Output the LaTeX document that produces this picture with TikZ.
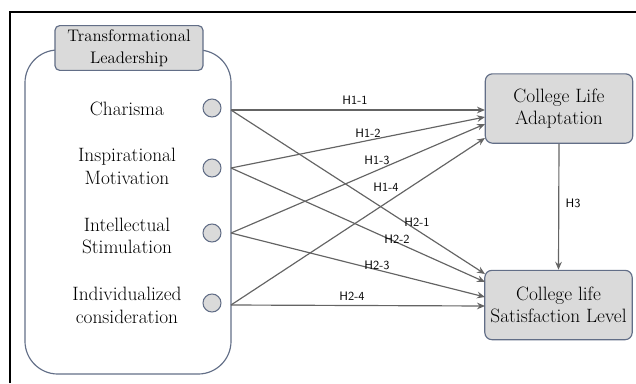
\documentclass[tikz,border=0pt]{standalone}
\usepackage{tikz}
\usetikzlibrary{positioning,arrows.meta}
\definecolor{boxgray}{RGB}{218,218,218}
\definecolor{rimblue}{RGB}{98,110,135}
\definecolor{linegray}{RGB}{100,100,100}
\tikzset{
  group/.style={draw=rimblue,line width=1pt,rounded corners=28pt,minimum width=6.18cm,minimum height=9.72cm},
  title/.style={draw=rimblue,fill=boxgray,line width=1pt,rounded corners=4pt,minimum width=4.44cm,
                minimum height=1.32cm,align=center,font=\fontsize{14.3}{18.7}\selectfont},
  dim/.style={align=center,font=\fontsize{16.5}{19.5}\selectfont},
  dot/.style={circle,draw=rimblue,fill=boxgray,line width=0.9pt,minimum size=5.4mm,inner sep=0pt},
  outcome/.style={draw=rimblue,fill=boxgray,line width=1pt,rounded corners=6pt,minimum width=4.42cm,
                  minimum height=2.08cm,align=center,font=\fontsize{16.5}{18.7}\selectfont},
  hlabel/.style={font=\sffamily\fontsize{10.5}{12}\selectfont},
  hyp/.style={-{Stealth[length=2.4mm,width=2mm,inset=0.8mm]},draw=linegray,line width=1pt},
}

\begin{document}
\begin{tikzpicture}[x=0.03cm,y=-0.03cm]
  \useasboundingbox (0,0) rectangle (636,383);
  \draw[line width=1.4pt] (10,383) |- (636,12);

  % transformational leadership
  \node[group] (tl) at (128,212) {};
  \node[title] (tlhead) at (129,48) {Transformational\\Leadership};
  \node[dim] (cha) at (127,109) {Charisma};
  \node[dim] (ins) at (127,166) {Inspirational\\Motivation};
  \node[dim] (int) at (127,236) {Intellectual\\Stimulation};
  \node[dim] (ind) at (127,305) {Individualized\\consideration};
  \node[dot] (d1) at (212,108) {};
  \node[dot] (d2) at (212,168) {};
  \node[dot] (d3) at (212,233) {};
  \node[dot] (d4) at (212,303) {};

  % outcomes
  \node[outcome] (adapt) at (559,108.5) {College Life\\Adaptation};
  \node[outcome] (satis) at (558.5,305) {College life\\Satisfaction Level};

  \coordinate (s1) at (231,110);
  \coordinate (s2) at (231,168);
  \coordinate (s3) at (231,233);
  \coordinate (s4) at (231,305);
  \coordinate (a1) at (485,110);
  \coordinate (a2) at (485,117);
  \coordinate (a3) at (485,124);
  \coordinate (a4) at (485,138);
  \coordinate (b1) at (485,274);
  \coordinate (b2) at (485,282);
  \coordinate (b3) at (485,297);
  \coordinate (b4) at (485,306);

  \draw[hyp] (s1) -- (a1);
  \draw[hyp] (s2) -- (a2);
  \draw[hyp] (s3) -- (a3);
  \draw[hyp] (s4) -- (a4);
  \draw[hyp] (s1) -- (b1);
  \draw[hyp] (s2) -- (b2);
  \draw[hyp] (s3) -- (b3);
  \draw[hyp] (s4) -- (b4);
  \draw[hyp] (adapt.south) -- (satis.north);

  \node[hlabel] (h11) at (355,100) {H1-1};
  \node[hlabel] (h12) at (368,133) {H1-2};
  \node[hlabel] (h13) at (377,160) {H1-3};
  \node[hlabel] (h14) at (386,187) {H1-4};
  \node[hlabel] (h21) at (417,222) {H2-1};
  \node[hlabel] (h22) at (397,239) {H2-2};
  \node[hlabel] (h23) at (377,265) {H2-3};
  \node[hlabel] (h24) at (352,296) {H2-4};
  \node[hlabel] (h3) at (573,203) {H3};
\end{tikzpicture}
\end{document}
